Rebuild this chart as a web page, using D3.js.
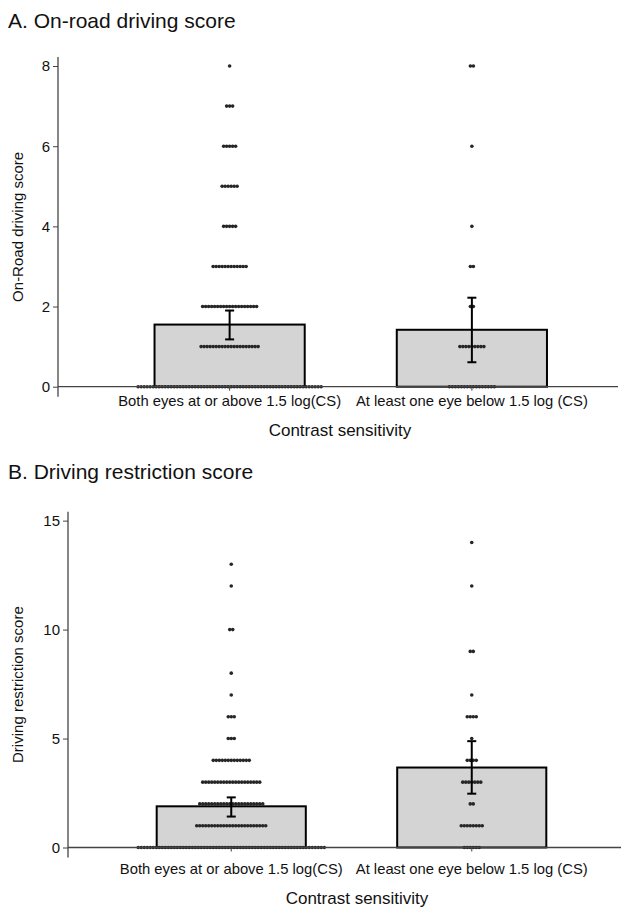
<!DOCTYPE html>
<html>
<head>
<meta charset="utf-8">
<script src="https://cdn.jsdelivr.net/npm/d3@7"></script>
<style>
  body { margin: 0; background: #fff; }
  text { font-family: "Liberation Sans", Arial, Helvetica, sans-serif; fill: #111; }
</style>
</head>
<body>
<div id="viz"></div>
<script>

var width = 627,
    height = 907;

// ****************** Data ***************************
var categories = ["Both eyes at or above 1.5 log(CS)", "At least one eye below 1.5 log (CS)"];

// on-road driving score: number of drivers at each score 0..8
var roadScores = [0, 1, 2, 3, 4, 5, 6, 7, 8];
var roadCountsAbove = [62, 20, 19, 12, 5, 6, 5, 3, 1];
var roadCountsBelow = [16, 9, 2, 2, 1, 0, 1, 0, 2];
var roadMeans = [1.55, 1.42];
var roadLower = [1.18, 0.61];
var roadUpper = [1.90, 2.22];
var roadTicks = [0, 2, 4, 6, 8];

// driving restriction score: number of drivers at each score 0..14
var restrScores = [0, 1, 2, 3, 4, 5, 6, 7, 8, 9, 10, 11, 12, 13, 14];
var restrCountsAbove = [63, 24, 22, 20, 13, 3, 3, 1, 1, 0, 2, 0, 1, 1, 0];
var restrCountsBelow = [6, 8, 2, 7, 4, 1, 4, 1, 0, 2, 0, 0, 1, 0, 1];
var restrMeans = [1.89, 3.67];
var restrLower = [1.42, 2.47];
var restrUpper = [2.30, 4.88];
var restrTicks = [0, 5, 10, 15];

var svg = d3.select("#viz")
    .append("svg")
    .attr("width", width)
    .attr("height", height);

function drawPanel(p) {
  var g = svg.append("g");

  var y = d3.scaleLinear()
      .domain([0, p.yMax])
      .range([p.y0, p.yTop]);

  var x = d3.scaleBand()
      .domain(categories)
      .range(p.xRange)
      .padding(0);

  var barW = x.bandwidth() * 0.62;
  var center = function(c) { return x(c) + x.bandwidth() / 2; };

  // title
  g.append("text")
      .attr("x", 8)
      .attr("y", p.titleY)
      .style("font-size", "21px")
      .text(p.title);

  // bars
  g.selectAll("rect.bar")
    .data(categories)
    .enter().append("rect")
      .attr("class", "bar")
      .attr("x", function(c) { return center(c) - barW / 2; })
      .attr("width", barW)
      .attr("y", function(c, i) { return y(p.means[i]); })
      .attr("height", function(c, i) { return y(0) - y(p.means[i]); })
      .attr("fill", "#d4d4d4")
      .attr("stroke", "#000")
      .attr("stroke-width", 2);

  // dots: one row per score, centred on the category
  var spacing = 3;
  var dots = [];
  categories.forEach(function(c, ci) {
    p.counts[ci].forEach(function(n, si) {
      for (var k = 0; k < n; k++) {
        dots.push({ cx: center(c) + (k - (n - 1) / 2) * spacing, score: p.scores[si] });
      }
    });
  });

  g.append("g").selectAll("circle")
    .data(dots)
    .enter().append("circle")
      .attr("cx", function(d) { return d.cx; })
      .attr("cy", function(d) { return y(d.score); })
      .attr("r", 1.8)
      .attr("fill", "#262626");

  // error bars
  var eb = g.append("g").selectAll("g")
    .data(categories)
    .enter().append("g")
      .attr("stroke", "#000")
      .attr("stroke-width", 2);
  eb.append("line")
      .attr("x1", center).attr("x2", center)
      .attr("y1", function(c, i) { return y(p.lower[i]); })
      .attr("y2", function(c, i) { return y(p.upper[i]); });
  eb.append("line")
      .attr("x1", function(c) { return center(c) - 4.5; })
      .attr("x2", function(c) { return center(c) + 4.5; })
      .attr("y1", function(c, i) { return y(p.upper[i]); })
      .attr("y2", function(c, i) { return y(p.upper[i]); });
  eb.append("line")
      .attr("x1", function(c) { return center(c) - 4.5; })
      .attr("x2", function(c) { return center(c) + 4.5; })
      .attr("y1", function(c, i) { return y(p.lower[i]); })
      .attr("y2", function(c, i) { return y(p.lower[i]); });

  // y axis
  var yAxis = g.append("g")
      .attr("transform", "translate(" + p.axisX + ",0)")
      .call(d3.axisLeft(y).tickValues(p.ticks).tickSize(5).tickSizeOuter(0));
  yAxis.select(".domain").remove();
  yAxis.selectAll("line").attr("stroke", "#444");
  yAxis.selectAll("text").style("font-size", "15px").attr("fill", "#111");

  g.append("line")                                                                // y axis line, runs a bit below 0
      .attr("x1", p.axisX).attr("x2", p.axisX)
      .attr("y1", y(p.yMax)).attr("y2", y(0) + 10)
      .attr("stroke", "#444")
      .attr("stroke-width", 1.3);

  // x axis
  var xAxis = g.append("g")
      .attr("transform", "translate(0," + y(0) + ")")
      .call(d3.axisBottom(x).tickSize(4).tickPadding(p.labelPad).tickSizeOuter(0));
  xAxis.select(".domain").remove();
  xAxis.selectAll("line").attr("stroke", "#444");
  xAxis.selectAll("text").style("font-size", "14.8px").attr("fill", "#111");

  g.append("line")
      .attr("x1", p.axisX).attr("x2", p.axisEnd)
      .attr("y1", y(0)).attr("y2", y(0))
      .attr("stroke", "#444")
      .attr("stroke-width", 1.3);

  // axis titles
  g.append("text")
      .attr("x", p.xTitleX)
      .attr("y", y(0) + p.xTitleDy)
      .attr("text-anchor", "middle")
      .style("font-size", "17px")
      .text("Contrast sensitivity");

  g.append("text")
      .attr("transform", "translate(23," + ((y(p.yMax) + y(0) + 10) / 2) + ") rotate(-90)")
      .attr("text-anchor", "middle")
      .style("font-size", "15px")
      .text(p.yLabel);
}

drawPanel({
  title: "A. On-road driving score",
  titleY: 28,
  yLabel: "On-Road driving score",
  scores: roadScores,
  counts: [roadCountsAbove, roadCountsBelow],
  means: roadMeans, lower: roadLower, upper: roadUpper,
  ticks: roadTicks,
  yMax: 8.225, y0: 386.7, yTop: 57,
  xRange: [108.5, 593], axisX: 58, axisEnd: 618,
  labelPad: 5, xTitleX: 340, xTitleDy: 49
});

drawPanel({
  title: "B. Driving restriction score",
  titleY: 479,
  yLabel: "Driving restriction score",
  scores: restrScores,
  counts: [restrCountsAbove, restrCountsBelow],
  means: restrMeans, lower: restrLower, upper: restrUpper,
  ticks: restrTicks,
  yMax: 15.41, y0: 847.5, yTop: 511.7,
  xRange: [111, 592], axisX: 68, axisEnd: 621,
  labelPad: 12, xTitleX: 357, xTitleDy: 56
});

</script>
</body>
</html>
